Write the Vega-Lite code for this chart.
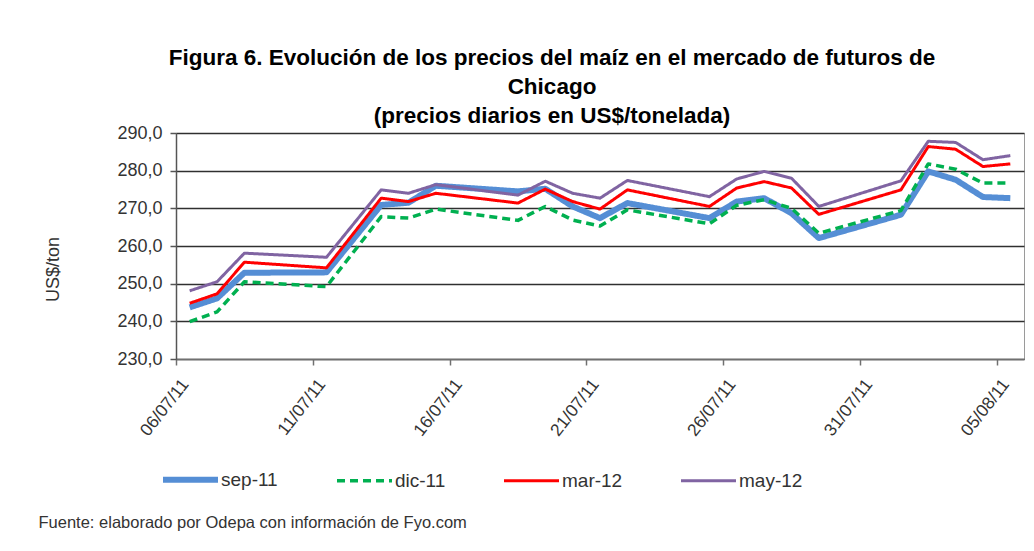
{
  "$schema": "https://vega.github.io/schema/vega-lite/v6.json",
  "width": 848,
  "height": 226,
  "autosize": {"type": "none"},
  "padding": {"left": 176, "top": 133, "right": 10, "bottom": 192},
  "background": "white",
  "config": {
    "font": "Liberation Sans",
    "view": {"stroke": "#9a9a9a", "strokeWidth": 1},
    "legend": {"symbolSize": 3025, "symbolType": "stroke"}
  },
  "title": {
    "text": ["Figura 6. Evolución de los precios del maíz en el mercado de futuros de", "Chicago", "(precios diarios en US$/tonelada)"],
    "font": "Liberation Sans",
    "fontSize": 22.5,
    "fontWeight": "bold",
    "color": "#000000",
    "lineHeight": 29,
    "anchor": "middle",
    "frame": "group",
    "dx": -48,
    "offset": -3
  },
  "data": {
    "values": [
      {"fecha": "2011/07/06", "sep-11": 243.7, "dic-11": 239.9, "mar-12": 244.8, "may-12": 248.1},
      {"fecha": "2011/07/07", "sep-11": 246.1, "dic-11": 242.5, "mar-12": 247.3, "may-12": 250.5},
      {"fecha": "2011/07/08", "sep-11": 252.9, "dic-11": 250.5, "mar-12": 255.7, "may-12": 258.1},
      {"fecha": "2011/07/11", "sep-11": 253.0, "dic-11": 249.2, "mar-12": 254.2, "may-12": 257.0},
      {"fecha": "2011/07/13", "sep-11": 270.9, "dic-11": 267.8, "mar-12": 272.7, "may-12": 274.9},
      {"fecha": "2011/07/14", "sep-11": 271.5, "dic-11": 267.4, "mar-12": 271.8, "may-12": 274.0},
      {"fecha": "2011/07/15", "sep-11": 276.0, "dic-11": 269.8, "mar-12": 274.0, "may-12": 276.3},
      {"fecha": "2011/07/18", "sep-11": 274.5, "dic-11": 266.8, "mar-12": 271.4, "may-12": 273.5},
      {"fecha": "2011/07/19", "sep-11": 275.2, "dic-11": 270.5, "mar-12": 275.1, "may-12": 277.2},
      {"fecha": "2011/07/20", "sep-11": 270.5, "dic-11": 266.9, "mar-12": 271.8, "may-12": 274.0},
      {"fecha": "2011/07/21", "sep-11": 267.4, "dic-11": 265.3, "mar-12": 269.8, "may-12": 272.7},
      {"fecha": "2011/07/22", "sep-11": 271.4, "dic-11": 269.6, "mar-12": 274.9, "may-12": 277.4},
      {"fecha": "2011/07/25", "sep-11": 267.4, "dic-11": 265.9, "mar-12": 270.5, "may-12": 273.1},
      {"fecha": "2011/07/26", "sep-11": 271.8, "dic-11": 270.8, "mar-12": 275.4, "may-12": 277.8},
      {"fecha": "2011/07/27", "sep-11": 272.7, "dic-11": 272.3, "mar-12": 277.1, "may-12": 279.8},
      {"fecha": "2011/07/28", "sep-11": 268.7, "dic-11": 270.0, "mar-12": 275.4, "may-12": 278.0},
      {"fecha": "2011/07/29", "sep-11": 262.1, "dic-11": 263.4, "mar-12": 268.4, "may-12": 270.5},
      {"fecha": "2011/08/01", "sep-11": 268.3, "dic-11": 269.4, "mar-12": 274.9, "may-12": 277.3},
      {"fecha": "2011/08/02", "sep-11": 279.8, "dic-11": 281.8, "mar-12": 286.4, "may-12": 287.8},
      {"fecha": "2011/08/03", "sep-11": 277.6, "dic-11": 280.4, "mar-12": 285.7, "may-12": 287.5},
      {"fecha": "2011/08/04", "sep-11": 273.0, "dic-11": 276.7, "mar-12": 281.1, "may-12": 282.9},
      {"fecha": "2011/08/05", "sep-11": 272.7, "dic-11": 276.7, "mar-12": 281.8, "may-12": 284.0}
    ]
  },
  "transform": [
    {"fold": ["sep-11", "dic-11", "mar-12", "may-12"], "as": ["serie", "precio"]}
  ],
  "encoding": {
    "x": {
      "field": "fecha",
      "type": "temporal",
      "timeUnit": "yearmonthdate",
      "bandPosition": 0.5,
      "scale": {
        "domain": [{"year": 2011, "month": 7, "date": 6}, {"year": 2011, "month": 8, "date": 6}]
      },
      "axis": {
        "values": [
          {"year": 2011, "month": 7, "date": 6},
          {"year": 2011, "month": 7, "date": 11},
          {"year": 2011, "month": 7, "date": 16},
          {"year": 2011, "month": 7, "date": 21},
          {"year": 2011, "month": 7, "date": 26},
          {"year": 2011, "month": 7, "date": 31},
          {"year": 2011, "month": 8, "date": 5}
        ],
        "format": "%d/%m/%y",
        "labelAngle": -52,
        "labelFontSize": 17.5,
        "labelColor": "#333333",
        "labelPadding": 16,
        "labelOffset": 9,
        "grid": false,
        "domainColor": "#707070",
        "domainWidth": 1.5,
        "tickColor": "#707070",
        "tickWidth": 1.5,
        "tickSize": 6,
        "title": "Fuente: elaborado por Odepa con información de Fyo.com",
        "titleFontSize": 16.5,
        "titleFontWeight": "normal",
        "titleColor": "#333333",
        "titleX": -138,
        "titleY": 163,
        "titleAlign": "left",
        "titleBaseline": "middle",
        "titleAnchor": "start"
      }
    },
    "y": {
      "field": "precio",
      "type": "quantitative",
      "scale": {"domain": [230, 290], "nice": false, "zero": false},
      "axis": {
        "values": [230, 240, 250, 260, 270, 280, 290],
        "labelExpr": "replace(format(datum.value, '.1f'), '.', ',')",
        "labelFontSize": 18,
        "labelColor": "#333333",
        "labelPadding": 8,
        "grid": true,
        "gridColor": "#303030",
        "gridWidth": 1.4,
        "domainColor": "#555555",
        "domainWidth": 1.5,
        "tickColor": "#555555",
        "tickWidth": 1.5,
        "tickSize": 6,
        "title": "US$/ton",
        "titleFontSize": 18,
        "titleFontWeight": "normal",
        "titleColor": "#333333",
        "titleAngle": -90,
        "titleX": -123,
        "titleY": 136,
        "titleAlign": "center",
        "titleBaseline": "middle"
      }
    },
    "color": {
      "field": "serie",
      "type": "nominal",
      "scale": {
        "domain": ["sep-11", "dic-11", "mar-12", "may-12"],
        "range": ["#558ED5", "#00B050", "#FF0000", "#8064A2"]
      },
      "legend": {
        "orient": "none",
        "direction": "horizontal",
        "legendX": 5,
        "legendY": 337,
        "title": null,
        "symbolType": "stroke",
        "symbolSize": 3025,
        "labelFontSize": 19,
        "labelColor": "#333333",
        "labelOffset": 21,
        "columnPadding": 52,
        "encode": {
          "symbols": {
            "update": {
              "strokeWidth": {"signal": "datum.value === 'sep-11' ? 6 : (datum.value === 'dic-11' ? 3.5 : 3)"}
            }
          }
        }
      }
    },
    "strokeDash": {
      "field": "serie",
      "type": "nominal",
      "scale": {
        "domain": ["sep-11", "dic-11", "mar-12", "may-12"],
        "range": [[1, 0], [8, 5], [1, 0], [1, 0]]
      }
    }
  },
  "layer": [
    {
      "transform": [{"filter": "datum.serie === 'sep-11'"}],
      "mark": {"type": "line", "strokeWidth": 6, "strokeJoin": "round"}
    },
    {
      "transform": [{"filter": "datum.serie === 'dic-11'"}],
      "mark": {"type": "line", "strokeWidth": 3.5, "strokeJoin": "round"}
    },
    {
      "transform": [{"filter": "datum.serie === 'mar-12'"}],
      "mark": {"type": "line", "strokeWidth": 3, "strokeJoin": "round"}
    },
    {
      "transform": [{"filter": "datum.serie === 'may-12'"}],
      "mark": {"type": "line", "strokeWidth": 3, "strokeJoin": "round"}
    }
  ]
}
